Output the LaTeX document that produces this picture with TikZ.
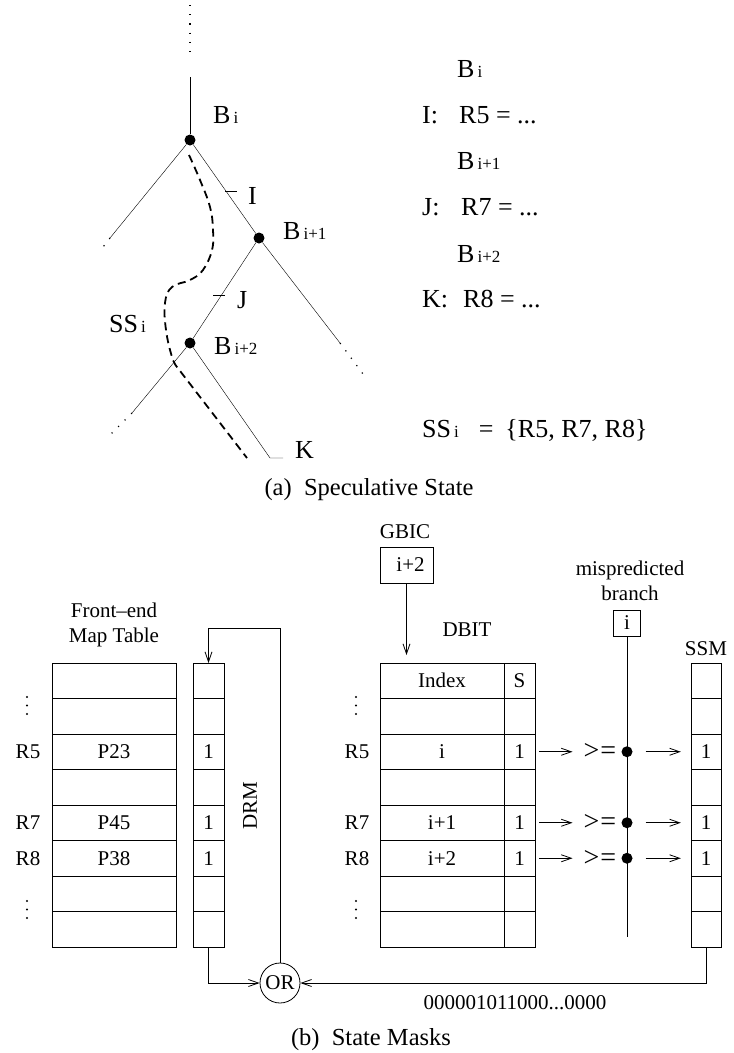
\documentclass[tikz,border=0pt]{standalone}
\usepackage{fontspec}
\setmainfont{Liberation Serif}
\usepackage{tikz}
\usetikzlibrary{arrows.meta,calc}
\tikzset{
  brnode/.style={circle, fill, inner sep=0pt, minimum size=11pt},
  lbl/.style={inner sep=0pt, anchor=base west, font=\fontsize{26}{30}\selectfont},
  txt/.style={inner sep=0pt, align=center, font=\fontsize{21}{25}\selectfont},
  captxt/.style={inner sep=0pt, font=\fontsize{24.5}{30}\selectfont},
  colbox/.style={draw, line width=0.8pt, inner sep=0pt, outer sep=0pt, minimum height=284pt},
  cell/.style={inner sep=0pt, minimum height=35.5pt, font=\fontsize{21}{25}\selectfont},
  smallbox/.style={draw, line width=0.8pt, inner sep=0pt, font=\fontsize{21}{25}\selectfont},
  vdotline/.style={line width=2.2pt, line cap=round, dash pattern=on 0pt off 8.5pt},
  sig/.style={line width=0.8pt, -{Straight Barb[length=10pt,width=7pt]}},
  dots/.style={line width=1.2pt, dash pattern=on 1.2pt off 8pt},
  ssline/.style={line width=1.8pt, dash pattern=on 8pt off 5pt},
  cmp/.style={inner sep=0pt, font=\fontsize{28}{30}\selectfont},
  tap/.style={circle, fill, inner sep=0pt, minimum size=11pt},
}
\newcommand{\bsub}[1]{B\kern3pt{\fontsize{17}{17}\selectfont #1}}
\newcommand{\regcol}[3]{% name, center x, width
  \node[colbox, minimum width=#3] (#1) at (#2,805) {};
  \foreach \r in {1,...,7}
    \draw[line width=0.8pt] ([yshift=-\r*35.5pt]#1.north west) -- ([yshift=-\r*35.5pt]#1.north east);
}

\begin{document}
\begin{tikzpicture}[x=1pt, y=-1pt]
  \useasboundingbox (0,0) rectangle (734,1053);

  % (a) the branch tree
  \node[brnode] (bi) at (190,140) {};
  \node[brnode] (bj) at (259,238) {};
  \node[brnode] (bk) at (190,343) {};
  \coordinate (top0) at (190,5);
  \coordinate (top1) at (190,58);
  \coordinate (top2) at (190,77);
  \coordinate (bil) at (110,238);  \coordinate (bil2) at (100,251);
  \coordinate (bjr) at (340,343);  \coordinate (bjr2) at (366,378);
  \coordinate (bkl) at (132,413);  \coordinate (bkl2) at (108,437);
  \coordinate (bkr) at (270,458);  \coordinate (bkr2) at (283,458);
  \draw[dots] (top0) -- (top1);
  \draw (top2) -- (bi);
  \draw (bi) -- (bil);  \draw[dots] (bil) -- (bil2);
  \draw (bi) -- (bj);
  \draw (bj) -- (bjr);  \draw[dots] (bjr) -- (bjr2);
  \draw (bj) -- (bk);
  \draw (bk) -- (bkl);  \draw[dots] (bkl) -- (bkl2);
  \draw (bk) -- (bkr) -- (bkr2);
  \path (bi) -- (bj) coordinate[pos=0.53] (tI);
  \path (bj) -- (bk) coordinate[pos=0.55] (tJ);
  \draw ([xshift=-1pt]tI) -- ([xshift=11pt]tI);
  \draw ([xshift=-8pt]tJ) -- ([xshift=4pt]tJ);
  \draw[ssline] plot[smooth, tension=0.7] coordinates {(189,155) (200,180) (210,207)
    (213,230) (212,250) (203,270) (190,280) (172,287) (165,303) (166,330) (172,357) (177,367)}
    -- (247,458);

  \node[lbl] (lbi) at (213,123) {\bsub{i}};
  \node[lbl] (lbj) at (283,239) {\bsub{i+1}};
  \node[lbl] (lbk) at (214,354) {\bsub{i+2}};
  \node[lbl] (lI) at (248,204) {I};
  \node[lbl] (lJ) at (237,308) {J};
  \node[lbl] (lK) at (295,458) {K};
  \node[lbl] (lss) at (109,332) {SS\kern3pt{\fontsize{17}{17}\selectfont i}};

  % (a) the code
  \node[lbl] (cbi) at (457,77) {\bsub{i}};
  \node[lbl] (ci) at (422,123) {\makebox[37pt][l]{I:}R5 = ...};
  \node[lbl] (cbj) at (457,169) {\bsub{i+1}};
  \node[lbl] (cj) at (422,215) {\makebox[39pt][l]{J:}R7 = ...};
  \node[lbl] (cbk) at (457,262) {\bsub{i+2}};
  \node[lbl] (ck) at (422,307) {\makebox[41pt][l]{K:}R8 = ...};
  \node[lbl] (ssdef) at (422,437) {SS\kern3pt{\fontsize{17}{17}\selectfont i}\hspace{20pt}=\hspace{12pt}\{R5, R7, R8\}};

  \node[captxt] (capa) at (369,490) {(a)\ \ Speculative State};

  % (b) tables
  \regcol{maptab}{114}{124pt}
  \regcol{drm}{208.5}{31pt}
  \regcol{dbiti}{442}{124pt}
  \regcol{dbits}{519.5}{31pt}
  \regcol{ssm}{706}{30pt}

  \node[txt] (felbl) at (114,625) {Front--end\\Map Table};
  \node[txt, rotate=90] (drmlbl) at (250,806) {DRM};
  \node[txt] (gbiclbl) at (405,532) {GBIC};
  \node[smallbox, minimum width=53pt, minimum height=36pt] (gbic) at (406.5,565) {\hspace*{8pt}i+2};
  \node[txt] (dbitlbl) at (467,630) {DBIT};
  \node[txt] (mislbl) at (630,581) {mispredicted\\branch};
  \node[smallbox, minimum width=27pt, minimum height=26pt] (mbr) at (627,623) {i};
  \node[txt] (ssmlbl) at (706,649) {SSM};
  \node[cell] (hidx) at (442,680.75) {Index};
  \node[cell] (hs) at (519.5,680.75) {S};

  % row ellipses
  \foreach \x/\y in {27/697, 27/901, 356/697, 356/901}
    \draw[vdotline] (\x,\y) -- ++(0,17.5);

  \coordinate (mbot) at (627,937);
  \draw[line width=0.8pt] (mbr.south) -- (mbot);

  \foreach \n/\y/\p/\idx in {5/751.75/P23/i, 7/822.75/P45/i+1, 8/858.25/P38/i+2} {
    \node[cell] (ra\n) at (28,\y) {R\n};
    \node[cell] (rb\n) at (357,\y) {R\n};
    \node[cell] (p\n) at (114,\y) {\p};
    \node[cell] (dr\n) at (208.5,\y) {1};
    \node[cell] (ix\n) at (442,\y) {\idx};
    \node[cell, minimum width=31pt] (s\n) at (519.5,\y) {1};
    \node[cmp] (ge\n) at (600,\y) {>\kern1pt=};
    \node[tap] (tap\n) at (627,\y) {};
    \node[cell, minimum width=30pt] (m\n) at (706,\y) {1};
    \draw[sig, shorten <=4pt, shorten >=11pt] (s\n.east) -- (ge\n.west);
    \draw[sig, shorten <=13pt, shorten >=10pt] (tap\n.east) -- (m\n.west);
  }

  % OR of the masks
  \node[circle, draw, line width=0.8pt, inner sep=0pt, minimum size=40pt,
        font=\fontsize{21}{25}\selectfont] (orgate) at (280,983) {OR};
  \draw[sig] (drm.south) |- (orgate.west);
  \draw[sig] (ssm.south) |- (orgate.east);
  \draw[sig] (orgate.north) |- ([yshift=35pt]drm.north) -- (drm.north);
  \draw[sig, shorten >=8pt] (gbic.south) -- (gbic.south |- dbiti.north);
  \node[txt] (mask) at (515,1003) {000001011000...0000};

  \node[captxt] (capb) at (371,1040) {(b)\ \ State Masks};
\end{tikzpicture}
\end{document}
